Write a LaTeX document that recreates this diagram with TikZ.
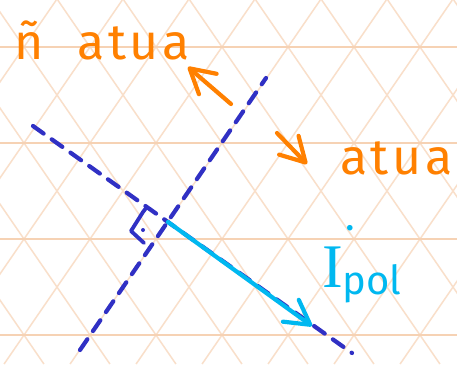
\documentclass[tikz,border=0pt]{standalone}
\usepackage{fontspec}
\setmainfont{Fira Sans}
\newfontfamily\barfont{Liberation Serif}
\usetikzlibrary{arrows.meta}
\definecolor{gridpeach}{RGB}{246,210,180}
\definecolor{penblue}{RGB}{48,48,196}
\definecolor{penorange}{RGB}{255,128,0}
\definecolor{pencyan}{RGB}{0,184,240}

\begin{document}
\begin{tikzpicture}[
    x=1pt, y=-1pt,
    gridline/.style={gridpeach, line width=1.8pt},
    slantline/.style={gridpeach!70, line width=1.5pt},
    axisline/.style={penblue, line width=4.2pt, line cap=round, dash pattern=on 13pt off 10pt},
    anglemark/.style={penblue, line width=3.8pt, line cap=round, line join=round},
    penarrow/.style={line width=4.2pt, line cap=round, -{Straight Barb[length=24pt, width=27pt, round]}},
    word/.style={penorange, inner sep=0pt, font=\fontsize{50}{50}\selectfont\addfontfeatures{LetterSpace=7}}
]
    % paper
    \useasboundingbox (0,0) rectangle (457,364);
    \fill[white] (0,0) rectangle (457,364);
    \begin{scope}
        \clip (0,0) rectangle (457,364);
        \foreach \k in {-4,...,11} {
            \draw[slantline] (24+66*\k-164.3,0) -- (24+66*\k+85.9,364);
            \draw[slantline] (24+66*\k+164.3,0) -- (24+66*\k-85.9,364);
        }
        \foreach \k in {0,...,3}
            \draw[gridline] (0,47+96*\k) -- (457,47+96*\k);
    \end{scope}

    % the two dashed lines
    \coordinate (cross) at (168,222);
    \coordinate (l1a) at (33,126);
    \coordinate (l1b) at (352,353);
    \coordinate (l2a) at (80,350);
    \coordinate (l2b) at (266,78);
    \draw[axisline] (l1a) -- (l1b);
    \draw[axisline] (l2a) -- (l2b);

    % right angle
    \draw[anglemark] (146,208) -- (143,212) -- (131,231) -- (144,243);
    \fill[penblue] (143,230) circle (2pt);

    % I pol
    \coordinate (ptip) at (312,326);
    \draw[penarrow, pencyan] (cross) -- (ptip);
    \node[pencyan, anchor=base west, inner sep=0pt] (ipol) at (322,287)
        {{\fontsize{62}{62}\barfont I}\raisebox{-7pt}{\fontsize{40}{40}\selectfont\rlap{\raisebox{64pt}{\hspace{3pt}.}}pol}};

    % sides
    \coordinate (naotail) at (231,104);
    \coordinate (naotip) at (188,67);
    \coordinate (atuatail) at (277,133);
    \coordinate (atuatip) at (307,164);
    \draw[penarrow, penorange] (naotail) -- (naotip);
    \draw[penarrow, penorange] (atuatail) -- (atuatip);
    \node[word, anchor=base west] (nao) at (14,59) {ñ\hspace{34pt}atua};
    \node[word, anchor=base west] (atua) at (340,174) {atua};
\end{tikzpicture}
\end{document}
